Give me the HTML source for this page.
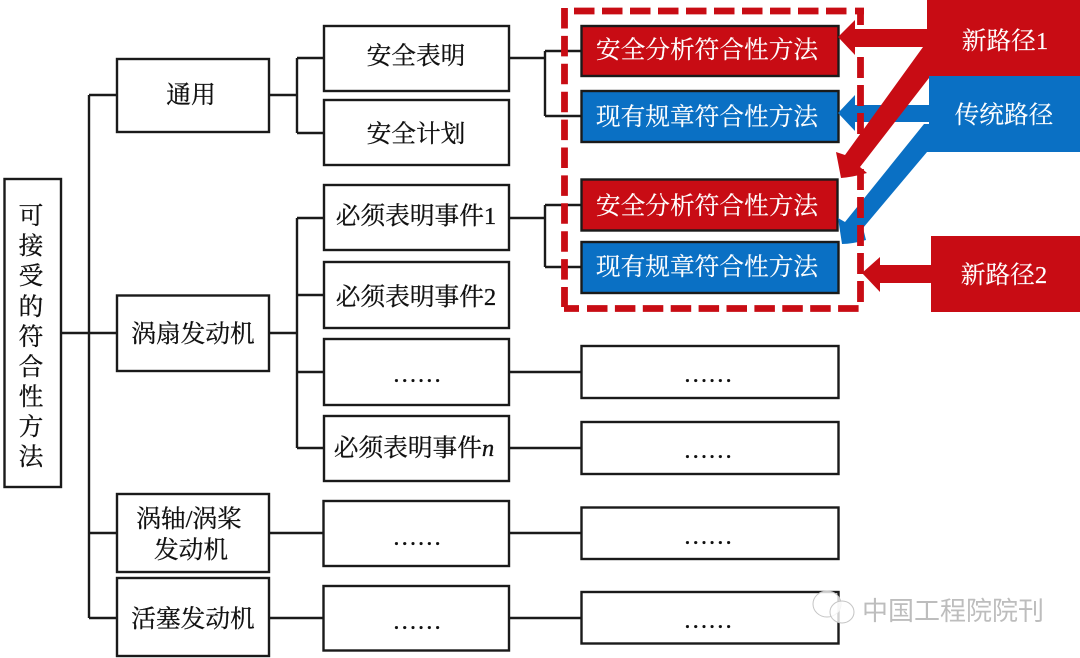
<!DOCTYPE html>
<html lang="zh"><head><meta charset="utf-8"><style>
html,body{margin:0;padding:0;background:#fff;width:1080px;height:658px;overflow:hidden}
svg{display:block;filter:blur(.35px)}
text{font-family:"Liberation Serif","Noto Serif CJK SC",serif;font-size:24.7px;fill:#111;stroke:#111;stroke-width:.3px;text-anchor:middle}
text.w{fill:#fff;stroke:#fff;stroke-width:.15px}
.b{fill:#fff;stroke:#1a1a1a;stroke-width:2.4}
.c{fill:#c80c14;stroke:#1a1a1a;stroke-width:2.4}
.u{fill:#0a70c4;stroke:#1a1a1a;stroke-width:2.4}
.l{fill:none;stroke:#1a1a1a;stroke-width:2.4}
.s{fill:none;stroke:#c80c14;stroke-width:6.8}
</style></head><body>
<svg width="1080" height="658" viewBox="0 0 1080 658" xmlns="http://www.w3.org/2000/svg">
<path class="l" d="M61 333H117M89 95V618M89 95H117M89 533H117M89 618H117M269 95H297M297 58V133M297 58H324M297 133H324M269 333H297M297 218V448M297 218H324M297 295H324M297 372H324M297 448H324M269 533H324M269 618H324M509 58H545M545 51V116M545 51H581M545 116H581M509 218H545M545 205V267M545 205H581M545 267H581M509 372H581M509 448H581M509 533H581M509 618H581"/>
<rect class="b" x="4.5" y="179" width="56.5" height="308"/>
<rect class="b" x="117" y="59" width="152" height="73"/>
<rect class="b" x="117" y="295.5" width="152" height="75.5"/>
<rect class="b" x="117" y="494" width="152" height="78"/>
<rect class="b" x="117" y="578" width="152" height="78"/>
<rect class="b" x="324" y="26" width="185" height="65"/>
<rect class="b" x="324" y="100" width="185" height="65"/>
<rect class="b" x="324" y="185" width="185" height="65"/>
<rect class="b" x="324" y="262" width="185" height="66"/>
<rect class="b" x="324" y="339" width="185" height="66"/>
<rect class="b" x="324" y="416" width="185" height="65"/>
<rect class="b" x="323.5" y="501" width="185.5" height="65"/>
<rect class="b" x="323.5" y="586" width="185.5" height="64.5"/>
<rect class="b" x="581.5" y="346" width="257" height="52"/>
<rect class="b" x="581.5" y="422" width="257" height="52"/>
<rect class="b" x="581.5" y="507.5" width="257" height="51.5"/>
<rect class="b" x="581.5" y="592" width="257" height="51.5"/>
<rect class="c" x="581.5" y="26" width="257" height="50"/>
<rect class="u" x="581.5" y="91" width="257" height="51"/>
<rect class="c" x="581.5" y="179.5" width="256" height="51"/>
<rect class="u" x="581.5" y="242" width="257" height="51"/>
<rect x="927" y="0" width="153" height="76" fill="#c80c14"/>
<rect x="929" y="76" width="151" height="76" fill="#0a70c4"/>
<rect x="931" y="236" width="149" height="76" fill="#c80c14"/>
<path fill="#c80c14" d="M838 37L855 20V29H929V47H855V55Z"/>
<path fill="#0a70c4" d="M838 113L855 95V105H930V122H855V131Z"/>
<path fill="#0a70c4" d="M924 124L930 124V152L927 152L863 228L866 240Q852 244 842 244L838 218L845 222Z"/>
<path fill="#c80c14" d="M923 47H929V78L860 167L867 173Q853 177 841 178L836 152L845 155Z"/>
<path fill="#c80c14" d="M862 273L880 257V265H932V283H880V292Z"/>
<path class="s" stroke-dasharray="20.5 7.4" d="M564.5 8V307"/>
<path class="s" stroke-dasharray="20.5 7.5" d="M574 11H848"/>
<path class="s" d="M855 11H864M860.5 8V25M564 308.5H579"/>
<path class="s" stroke-dasharray="20.5 7.4" d="M587 308.5H859"/>
<path class="s" stroke-dasharray="21 7" d="M860.5 57V303"/>
<g><text x="416" y="64">安全表明</text><text x="416" y="142">安全计划</text>
<text x="191" y="103">通用</text><text x="193" y="342">涡扇发动机</text>
<text x="189" y="527">涡轴/涡桨</text><text x="191" y="558">发动机</text><text x="193" y="627">活塞发动机</text>
<text x="416" y="224">必须表明事件1</text><text x="416" y="305">必须表明事件2</text>
<text x="414" y="456">必须表明事件<tspan font-style="italic">n</tspan></text></g>
<g><text x="31" y="224">可</text><text x="31" y="254">接</text><text x="31" y="284">受</text><text x="31" y="315">的</text><text x="31" y="345">符</text><text x="31" y="375">合</text><text x="31" y="405">性</text><text x="31" y="435">方</text><text x="31" y="465">法</text></g>
<g><text x="417" y="382">……</text><text x="708" y="382">……</text><text x="708" y="458">……</text><text x="417" y="545">……</text><text x="708" y="544">……</text><text x="417" y="629">……</text><text x="708" y="628">……</text></g>
<text class="w" x="707" y="58">安全分析符合性方法</text><text class="w" x="707" y="125">现有规章符合性方法</text><text class="w" x="707" y="214">安全分析符合性方法</text><text class="w" x="707" y="275">现有规章符合性方法</text>
<text class="w" x="1005" y="49">新路径1</text><text class="w" x="1004" y="123">传统路径</text><text class="w" x="1004" y="283">新路径2</text>
<g fill="#fff" fill-opacity=".8" stroke="#c4c4c4" stroke-width="1"><ellipse cx="827" cy="604" rx="14" ry="13"/><ellipse cx="842" cy="612" rx="12" ry="11"/></g>
<text x="953" y="620" style="font-family:'Liberation Sans','Noto Sans CJK SC',sans-serif;font-size:26px;fill:#bdbdbd;stroke:none">中国工程院院刊</text>
</svg>
</body></html>
